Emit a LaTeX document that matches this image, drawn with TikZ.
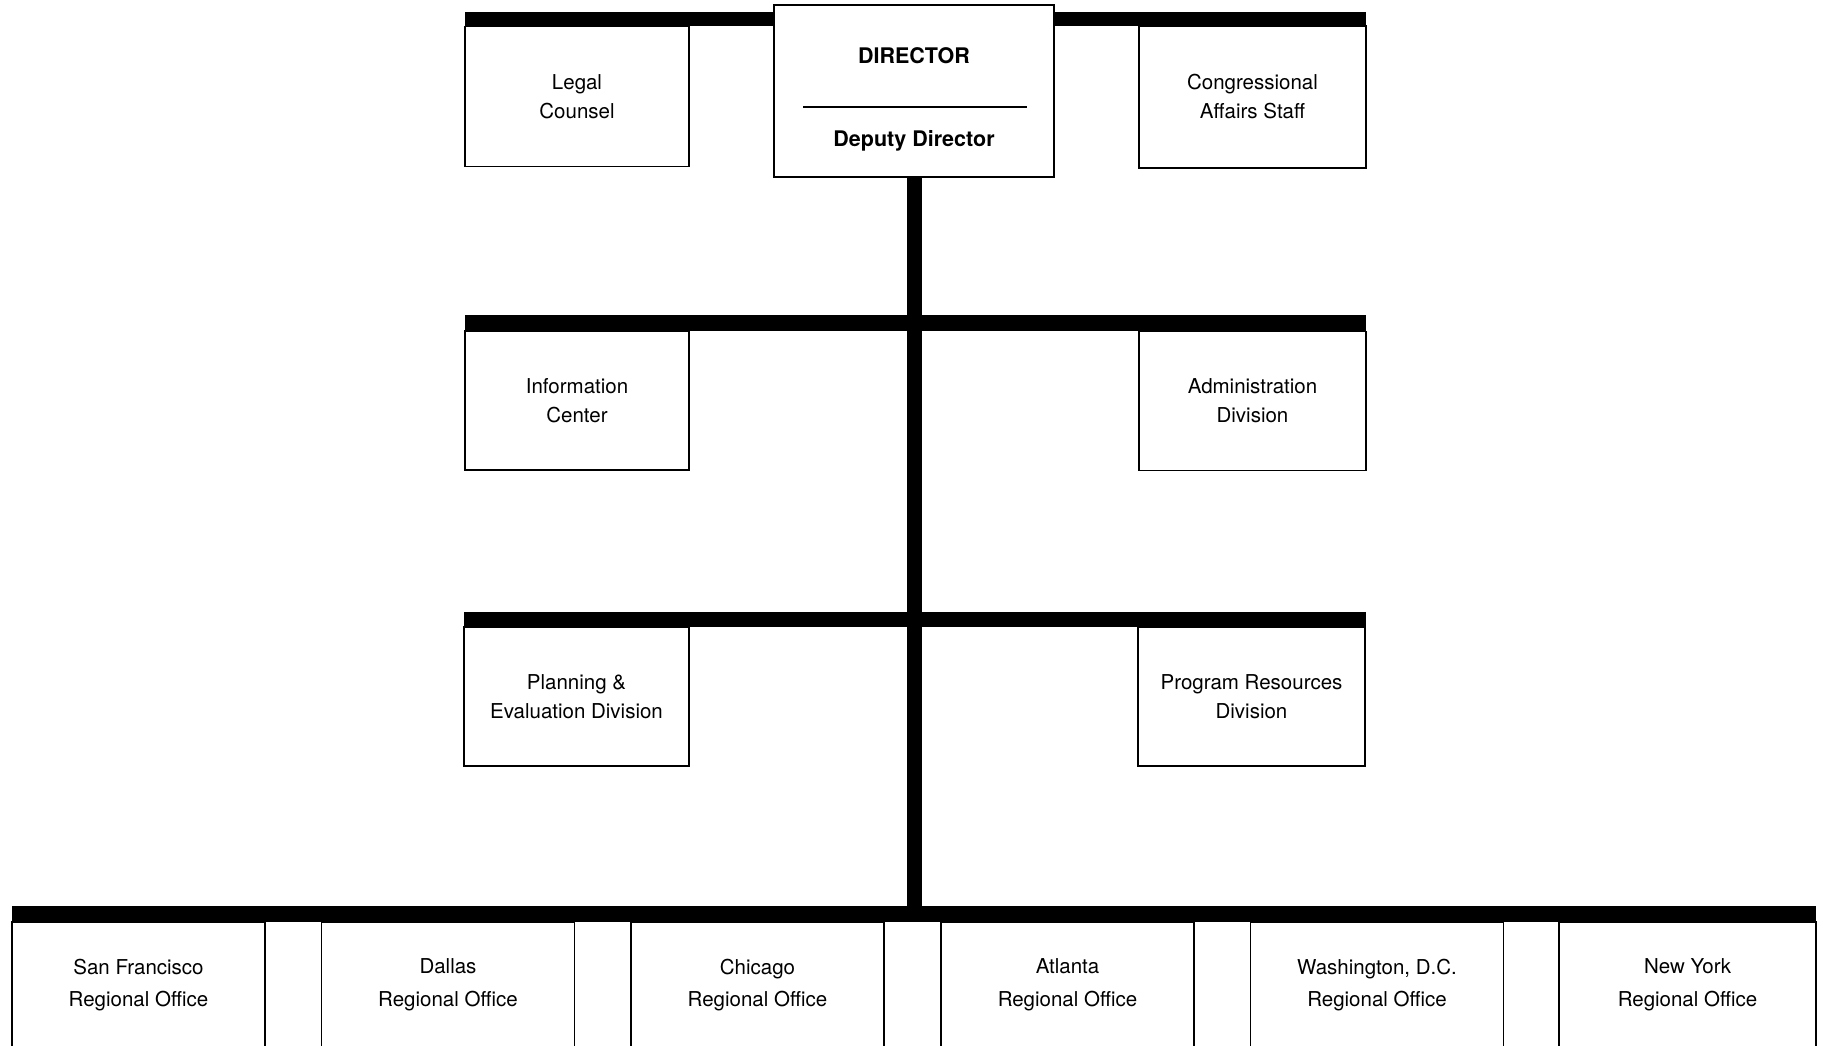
\documentclass[tikz,border=0pt]{standalone}
\usepackage{fontspec}
\setmainfont{TeX Gyre Heros}
\usetikzlibrary{calc}
\tikzset{
  orgbox/.style={draw, line width=1.6pt, fill=white, align=center, inner sep=0pt,
    font=\fontsize{20.5}{32.5}\selectfont},
  colbox/.style={orgbox, minimum width=224pt, minimum height=140pt,
    font=\fontsize{20.5}{29}\selectfont},
  regbox/.style={orgbox, minimum width=253pt, minimum height=126pt},
  boldtext/.style={inner sep=0pt, font=\fontsize{21.5}{26}\selectfont\bfseries},
  barfill/.style={fill=black}
}
\begin{document}
\begin{tikzpicture}[x=1pt,y=-1pt]
\useasboundingbox (0,0) rectangle (1823,1046);
\clip (0,0) rectangle (1823,1046);
% bars
\fill[barfill] (465,12) rectangle (1366,26);
\fill[barfill] (465,315) rectangle (1366,331);
\fill[barfill] (464,612) rectangle (1366,627);
\fill[barfill] (12,906) rectangle (1816,922);
\coordinate (hub) at (914,914);
% boxes
\node[colbox] (legal) at (577,96.5) {Legal\\Counsel};
\node[colbox, minimum width=227pt, minimum height=142pt] (cong) at (1252.5,97) {Congressional\\Affairs Staff};
\node[orgbox, minimum width=280pt, minimum height=172pt] (dir) at (914,91) {};
\node[colbox, minimum height=139pt] (info) at (577,400.5) {Information\\Center};
\node[colbox, minimum width=227pt, minimum height=139pt] (admin) at (1252.5,401) {Administration\\Division};
\node[colbox, minimum width=225pt, minimum height=139pt] (plan) at (576.5,696.5) {Planning \&\\Evaluation Division};
\node[colbox, minimum width=227pt, minimum height=139pt] (prog) at (1251.5,696.5) {Program Resources\\Division};
% trunk
\draw[line width=15pt] (dir.south) -- (hub);
% director texts
\node[boldtext] (dirt) at (914,56) {DIRECTOR};
\node[boldtext] (dept) at (914,141) {Deputy Director};
\coordinate (ruleL) at (803,107);
\coordinate (ruleR) at (1027,107);
\draw[line width=1.6pt] (ruleL) -- (ruleR);
% regional offices
\node[regbox] (sf) at (138.5,985) {San Francisco\\Regional Office};
\node[regbox] (dal) at (448,985) {Dallas\\Regional Office};
\node[regbox] (chi) at (757.5,985) {Chicago\\Regional Office};
\node[regbox] (atl) at (1067.5,985) {Atlanta\\Regional Office};
\node[regbox] (was) at (1377,985) {Washington, D.C.\\Regional Office};
\node[regbox, minimum width=257pt] (ny) at (1687.5,985) {New York\\Regional Office};
\end{tikzpicture}
\end{document}
